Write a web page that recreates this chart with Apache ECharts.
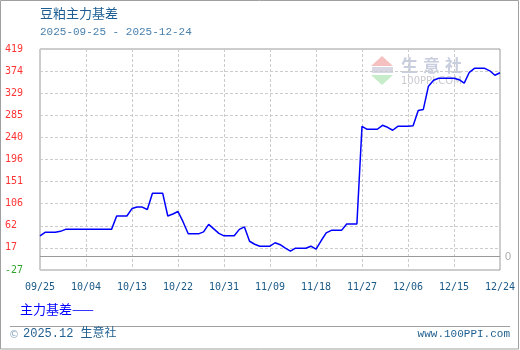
<!DOCTYPE html>
<html><head><meta charset="utf-8">
<script src="https://cdn.jsdelivr.net/npm/echarts@6/dist/echarts.min.js"></script>
<style>html,body{margin:0;padding:0;background:#fff}#c{width:520px;height:350px}</style>
</head><body><div id="c"></div>
<script>
// ---- data ----
const startDate = '2025-09-25';
const dayCount = 91;
const basis = [
  42, 49, 49, 49, 51, 55, 55, 55, 55, 55,
  55, 55, 55, 55, 55, 82, 82, 82, 97, 100,
  100, 95, 128, 128, 128, 82, 86, 91, 70, 46,
  46, 46, 50, 65, 56, 47, 42, 42, 42, 55,
  60, 31, 25, 21, 21, 21, 28, 24, 17, 11,
  17, 17, 17, 21, 15, 32, 48, 53, 53, 53,
  66, 66, 66, 263, 257, 257, 257, 265, 261, 255,
  263, 263, 263, 264, 295, 297, 344, 356, 360, 360,
  360, 360, 357, 350, 372, 380, 380, 380, 375, 366, 371
];
const yTickLabels = ['-27', '17', '62', '106', '151', '196', '240', '285', '329', '374', '419'];
const yMin = -27, yMax = 419, yStep = 44.6;
const titleText = '豆粕主力基差';
const subtitleText = '2025-09-25 - 2025-12-24';
const seriesName = '主力基差';
const footerLeft = '2025.12 生意社';
const footerRight = 'www.100PPI.com';
const watermarkChars = ['生', '意', '社'];

// ---- categories (calendar days) ----
const categories = [];
const t0 = new Date(startDate + 'T00:00:00Z').getTime();
for (let i = 0; i < dayCount; i++) {
  const d = new Date(t0 + i * 86400000);
  categories.push(String(d.getUTCMonth() + 1).padStart(2, '0') + '/' + String(d.getUTCDate()).padStart(2, '0'));
}

const mono = '"Liberation Mono", "DejaVu Sans Mono", monospace';
const cjk = '"Noto Sans CJK SC", "Noto Sans", sans-serif';

const wmX = [401, 423, 445];
const watermarkText = watermarkChars.map((ch, i) => ({
  type: 'text', left: wmX[i], top: 57, z: 0, silent: true,
  style: { text: ch, fill: '#c9cede', font: 'bold 17px ' + cjk }
}));

const chart = echarts.init(document.getElementById('c'), null, { renderer: 'canvas' });
chart.setOption({
  animation: false,
  backgroundColor: '#fff',
  title: {
    text: titleText,
    subtext: subtitleText,
    left: 40, top: 7, padding: 0, itemGap: 7,
    textStyle: { color: '#1c5e93', fontSize: 13, fontWeight: 'normal', fontFamily: cjk },
    subtextStyle: { color: '#4a80ad', fontSize: 11, fontFamily: mono }
  },
  legend: {
    left: 15, top: 303, padding: 0,
    icon: 'none', itemWidth: 0, itemHeight: 0,
    formatter: (n) => n + '——',
    textStyle: { color: '#0000ff', fontSize: 13, fontFamily: cjk },
    data: [seriesName]
  },
  grid: { left: 40, right: 20, top: 49, bottom: 80, show: true, borderColor: '#9a9a9a', borderWidth: 1 },
  xAxis: {
    type: 'category',
    data: categories,
    boundaryGap: false,
    axisLine: { show: false },
    axisTick: { show: false },
    axisLabel: { interval: 8, margin: 12, color: '#1a5a87', fontSize: 10, fontFamily: '"DejaVu Sans Mono", monospace', showMaxLabel: true },
    splitLine: { show: true, interval: 8, lineStyle: { color: '#cccccc', type: [3, 2], width: 1 } }
  },
  yAxis: {
    type: 'value',
    min: yMin, max: yMax, interval: yStep,
    axisLine: { show: false },
    axisTick: { show: false },
    axisLabel: {
      align: 'left', margin: 35, fontSize: 10, fontFamily: '"DejaVu Sans Mono", monospace',
      formatter: (v) => yTickLabels[Math.round((v - yMin) / yStep)],
      color: (v) => (Number(v) < 0 ? '#2fa52f' : '#ff3333')
    },
    splitLine: { show: true, lineStyle: { color: '#cccccc', type: [3, 2], width: 1 } }
  },
  series: [{
    name: seriesName,
    type: 'line',
    data: basis,
    showSymbol: false,
    symbol: 'none',
    lineStyle: { color: '#0000ff', width: 1.5 },
    itemStyle: { color: '#0000ff' },
    z: 5,
    markLine: {
      silent: true, symbol: 'none', animation: false,
      lineStyle: { color: '#999999', type: 'solid', width: 1.2 },
      label: { show: true, position: 'end', formatter: '0', color: '#aaaaaa', fontSize: 11, distance: 5 },
      data: [{ yAxis: 0 }]
    }
  }],
  graphic: [
    // outer frame
    { type: 'rect', shape: { x: 0.5, y: 0.5, width: 518, height: 348.5 }, style: { fill: 'none', stroke: '#a0a0a0', lineWidth: 1 }, silent: true },
    // watermark
    { type: 'polygon', shape: { points: [[382, 56], [393, 66], [371, 66]] }, style: { fill: '#f5c0c0' }, z: 0, silent: true },
    { type: 'rect', shape: { x: 372, y: 67, width: 21, height: 6 }, style: { fill: '#d8d8e4' }, z: 0, silent: true },
    { type: 'polygon', shape: { points: [[371, 75], [393, 75], [382, 85]] }, style: { fill: '#c6ecc9' }, z: 0, silent: true },
    ...watermarkText,
    { type: 'text', left: 401, top: 76, style: { text: '100PPI.COM', fill: '#c9c9cf', font: '10px "DejaVu Sans", sans-serif' }, z: 0, silent: true },
    // footer
    { type: 'line', shape: { x1: 10, y1: 326.5, x2: 510, y2: 326.5 }, style: { stroke: '#a0a0a0', lineWidth: 1 }, silent: true },
    { type: 'text', left: 9, top: 330, style: { text: '©', fill: '#8aa4bb', font: '10px "DejaVu Sans", sans-serif' }, silent: true },
    { type: 'text', left: 23, top: 328, style: { text: footerLeft, fill: '#1f5f8f', font: '12px ' + mono + ', ' + cjk }, silent: true },
    { type: 'text', right: 10, top: 329, style: { text: footerRight, fill: '#1f5f8f', font: '11px ' + mono }, silent: true }
  ]
});
</script>
</body></html>
